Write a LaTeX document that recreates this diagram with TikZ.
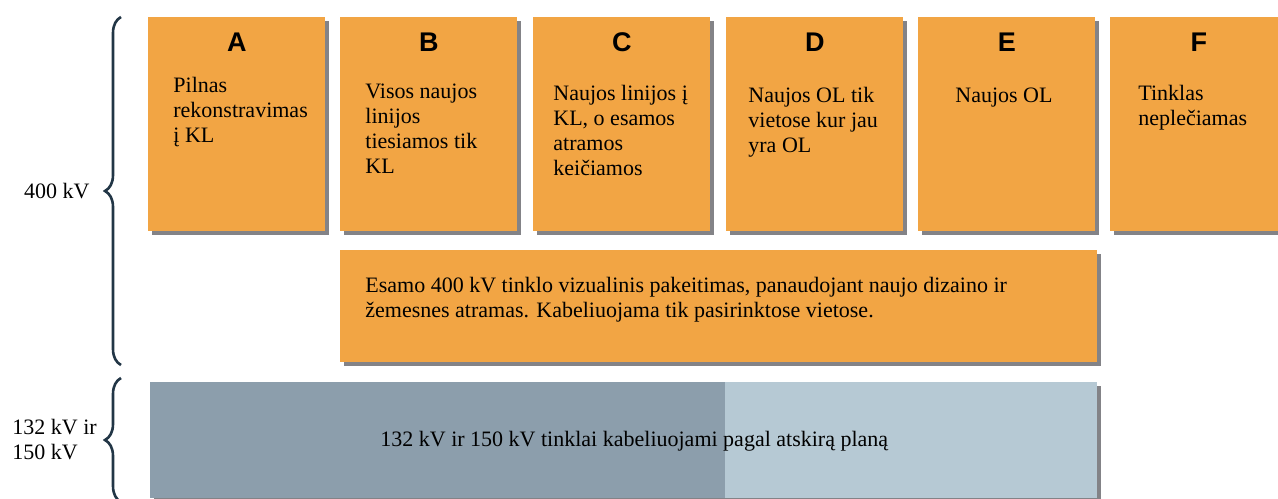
\documentclass[tikz,border=0pt]{standalone}
\usepackage{fontspec}
\setmainfont{Liberation Serif}
\newfontfamily\lettersans{Liberation Sans}
\usetikzlibrary{calc,shadows,decorations.pathreplacing}

\definecolor{boxorange}{RGB}{242,165,68}
\definecolor{bardark}{RGB}{140,158,172}
\definecolor{barlight}{RGB}{182,201,212}
\definecolor{bracenavy}{RGB}{34,54,70}
\definecolor{shadowgray}{RGB}{118,118,122}

% multi-line text whose reference point is the first baseline
\newcommand\txtlines[2]{\parbox[t]{#1}{\raggedright #2}}

\tikzset{
  obox/.style={fill=boxorange, draw=none, inner sep=0, anchor=north west,
    minimum width=88.5pt, minimum height=107pt,
    drop shadow={shadow xshift=2pt, shadow yshift=-2pt, fill=shadowgray, opacity=.9}},
  letter/.style={font=\lettersans\bfseries\fontsize{13.5pt}{15pt}\selectfont,
    anchor=base, inner sep=0},
  txt/.style={font=\fontsize{11pt}{12.5pt}\selectfont, anchor=base west,
    inner sep=0, text=black},
  bracestyle/.style={draw=bracenavy, line width=1.3pt, decorate,
    decoration={brace, amplitude=8pt}},
}

\begin{document}
\begin{tikzpicture}[x=0.5pt, y=-0.5pt]
  \useasboundingbox (0,0) rectangle (1278,498);
  \clip (0,0) rectangle (1278,498);
  \fill[white] (0,0) rectangle (1278,498);

  % option boxes A--F
  \node[obox] (A) at (148,17) {};
  \node[obox] (B) at (340,17) {};
  \node[obox] (C) at (533,17) {};
  \node[obox] (D) at (726,17) {};
  \node[obox] (E) at (918,17) {};
  \node[obox] (F) at (1110,17) {};

  \node[letter] (lA) at ($(A.north)+(0,34)$) {A};
  \node[letter] (lB) at ($(B.north)+(0,34)$) {B};
  \node[letter] (lC) at ($(C.north)+(0,34)$) {C};
  \node[letter] (lD) at ($(D.north)+(0,34)$) {D};
  \node[letter] (lE) at ($(E.north)+(0,34)$) {E};
  \node[letter] (lF) at ($(F.north)+(0,34)$) {F};

  \node[txt] (tA) at ($(A.north west)+(25,75)$)
    {\txtlines{85pt}{Pilnas\\rekonstravimas\\į KL}};
  \node[txt] (tB) at ($(B.north west)+(25,81)$)
    {\txtlines{85pt}{Visos naujos\\linijos\\tiesiamos tik\\KL}};
  \node[txt] (tC) at ($(C.north west)+(20,83)$)
    {\txtlines{85pt}{Naujos linijos į\\KL, o esamos\\atramos\\keičiamos}};
  \node[txt] (tD) at ($(D.north west)+(22,85)$)
    {\txtlines{85pt}{Naujos OL tik\\vietose kur jau\\yra OL}};
  \node[txt] (tE) at ($(E.north west)+(37,85)$)
    {\txtlines{85pt}{Naujos OL}};
  \node[txt] (tF) at ($(F.north west)+(28,83)$)
    {\txtlines{85pt}{Tinklas\\neplečiamas}};

  % wide box under B--E
  \node[obox, minimum width=378.5pt, minimum height=56pt] (G) at (340,250) {};
  \node[txt] (tG) at ($(G.north west)+(25,42)$)
    {\txtlines{370pt}{Esamo 400 kV tinklo vizualinis pakeitimas, panaudojant naujo dizaino ir\\žemesnes atramas. Kabeliuojama tik pasirinktose vietose.}};

  % 132/150 kV bar
  \node[obox, fill=barlight, minimum width=473.5pt, minimum height=58pt] (H) at (150,382) {};
  \node[inner sep=0, anchor=north west, fill=bardark, minimum width=287.5pt,
        minimum height=58pt] (Hd) at (150,382) {};
  \node[txt] (tH) at ($(H.north west)+(230,64)$)
    {132 kV ir 150 kV tinklai kabeliuojami pagal atskirą planą};

  % voltage braces and labels
  \coordinate (b1top) at (121,17);
  \coordinate (b1bot) at (121,365);
  \coordinate (b2top) at (121,378);
  \coordinate (b2bot) at (121,502);
  \draw[bracestyle] (b1bot) -- (b1top);
  \draw[bracestyle] (b2bot) -- (b2top);

  \node[txt, anchor=base east] (v400) at (90,198) {400 kV};
  \node[txt] (v132) at (12,434) {\txtlines{60pt}{132 kV ir\\150 kV}};
\end{tikzpicture}
\end{document}
